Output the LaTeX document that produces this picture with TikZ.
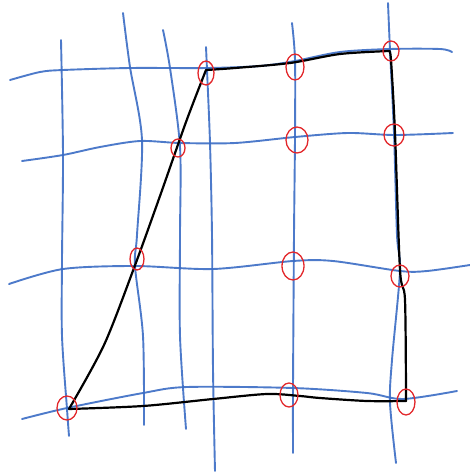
\documentclass[tikz,border=0pt]{standalone}
\definecolor{penblue}{RGB}{58,108,196}
\definecolor{penred}{RGB}{226,38,42}
\begin{document}
\begin{tikzpicture}[x=1pt, y=-1pt,
        grid/.style={draw=penblue, line width=1.9pt, line cap=round, opacity=0.9},
        route/.style={draw=black, line width=2.2pt, line cap=round, line join=round},
        ring/.style={draw=penred, line width=1.3pt}
    ]
    \useasboundingbox (0,0) rectangle (470,472);
    % horizontal lines
    \draw[grid] plot[smooth] coordinates {(10,80) (40,72) (63,70) (130,68) (207,68) (260,66) (295,61) (340,52) (390,49) (440,49) (452,52)};
    \draw[grid] plot[smooth] coordinates {(22,161) (63,155) (100,147) (140,141) (180,143) (235,143) (295,137) (348,133) (395,135) (453,133)};
    \draw[grid] plot[smooth] coordinates {(9,284) (63,269) (135,266) (213,269) (293,261) (333,261) (400,271) (427,271) (470,265)};
    \draw[grid] plot[smooth] coordinates {(22,419) (67,408) (143,393) (187,387) (293,388) (367,393) (403,399) (457,391)};
    % vertical lines
    \draw[grid] plot[smooth] coordinates {(61,40) (63,155) (62,260) (62,336) (67,409) (69,436)};
    \draw[grid] plot[smooth] coordinates {(123,13) (130,67) (142,140) (137,235) (135,266) (143,336) (144,425)};
    \draw[grid] plot[smooth] coordinates {(163,30) (170,68) (180,147) (180,236) (180,336) (186,429)};
    \draw[grid] plot[smooth] coordinates {(206,47) (207,70) (210,143) (212,235) (213,369) (215,471)};
    \draw[grid] plot[smooth] coordinates {(292,23) (295,60) (295,137) (294,235) (293,389) (293,453)};
    \draw[grid] plot[smooth] coordinates {(388,3) (390,50) (394,133) (397,235) (400,271) (392,360) (390,403) (396,463)};

    % corners of the route
    \coordinate (bl) at (69,409);
    \coordinate (tl) at (206,70);
    \coordinate (tr) at (389,51);
    \coordinate (br) at (406,401);
    \draw[route] plot[smooth] coordinates {(bl) (104,345) (134,268) (160,196) (186,122) (tl)};
    \draw[route] plot[smooth] coordinates {(tl) (235,68) (290,63) (340,54) (tr)};
    \draw[route] plot[smooth] coordinates {(tr) (391,60) (395,133) (400,270) (405,300) (br)};
    \draw[route] plot[smooth] coordinates {(br) (367,401) (320,398) (300,396) (267,394) (213,399) (143,406) (bl)};

    % red rings
    \foreach \x/\y/\a/\b [count=\i] in {206/73/8/12, 178/148/7/9, 295/67/9/13, 391/51/8/10,
            297/140/11/13, 394/135/10/11, 137/259/7/11, 293/266/11/14,
            400/276/9/11, 67/408/10/12, 289/395/9/12, 406/402/9/13}
        \draw[ring] (\x,\y) coordinate (r\i) ellipse [x radius=\a, y radius=\b];
\end{tikzpicture}
\end{document}
